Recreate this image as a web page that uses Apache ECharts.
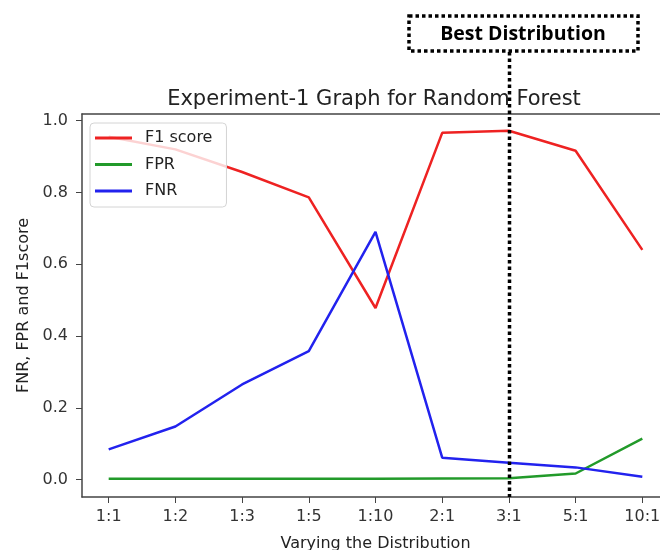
<!DOCTYPE html>
<html lang="en">
<head>
  <meta charset="UTF-8">
  <title>Experiment-1 Graph for Random Forest</title>
  <style>
    html,body { width:100%; height:100%; margin:0; background:#fff; }
  </style>
</head>
<body>
  <div id="chart" style="width:660px;height:550px"></div>
  <script src="https://cdn.jsdelivr.net/npm/echarts@6/dist/echarts.min.js"></script>
  <script>
    // data
    var ratios = ['1:1', '1:2', '1:3', '1:5', '1:10', '2:1', '3:1', '5:1', '10:1'];
    var f1Score = [0.955, 0.92, 0.857, 0.786, 0.478, 0.966, 0.972, 0.916, 0.64];
    var fpr = [0.002, 0.002, 0.002, 0.002, 0.002, 0.003, 0.004, 0.017, 0.114];
    var fnr = [0.084, 0.148, 0.265, 0.358, 0.69, 0.061, 0.047, 0.034, 0.008];
    var yTicks = [0, 0.2, 0.4, 0.6, 0.8, 1.0];
    var bestIndex = 6;

    var font = 'DejaVu Sans';
    var xTicks = ratios.map(function (r, i) { return i; });

    function pairs(vals) {
      return vals.map(function (v, i) { return [i, v]; });
    }

    var myChart = echarts.init(document.getElementById('chart'));

    var option = {
      animation: false,
      grid: {
        left: 82, top: 114, width: 587, height: 383,
        outerBoundsMode: 'none',
        containLabel: false
      },
      legend: {
        left: 90, top: 123,
        orient: 'vertical',
        icon: 'rect',
        itemWidth: 37, itemHeight: 3,
        itemGap: 8.5,
        padding: [6, 14, 7, 5],
        backgroundColor: 'rgba(255,255,255,0.8)',
        borderColor: '#d4d4d4', borderWidth: 1, borderRadius: 4,
        textStyle: { fontFamily: font, fontSize: 16, color: '#222', lineHeight: 18, padding: [0, 0, 0, 8] },
        data: ['F1 score', 'FPR', 'FNR']
      },
      xAxis: [
        {
          type: 'value',
          min: -0.4, max: 8.4,
          name: 'Varying the Distribution',
          nameLocation: 'middle', nameGap: 39,
          nameTextStyle: { fontFamily: font, fontSize: 16, color: '#222' },
          axisLine: { onZero: false, lineStyle: { color: '#444', width: 1.5 } },
          axisTick: { show: true, length: 6, lineStyle: { color: '#444' }, customValues: xTicks },
          axisLabel: {
            customValues: xTicks,
            margin: 12,
            fontFamily: font, fontSize: 16, color: '#333',
            formatter: function (v) { return ratios[Math.round(v)]; }
          },
          splitLine: { show: false }
        },
        {
          // top spine only
          type: 'value', position: 'top',
          min: -0.4, max: 8.4,
          axisLine: { show: true, onZero: false, lineStyle: { color: '#444', width: 1.5 } },
          axisTick: { show: false },
          axisLabel: { show: false },
          splitLine: { show: false }
        }
      ],
      yAxis: {
        type: 'value',
        min: -0.0485, max: 1.0185,
        name: 'FNR, FPR and F1score',
        nameLocation: 'middle', nameGap: 50,
        nameTextStyle: { fontFamily: font, fontSize: 16, color: '#222' },
        axisLine: { show: true, onZero: false, lineStyle: { color: '#444', width: 1.5 } },
        axisTick: { show: true, length: 6, lineStyle: { color: '#444' }, customValues: yTicks },
        axisLabel: {
          customValues: yTicks,
          margin: 14,
          fontFamily: font, fontSize: 16, color: '#333',
          formatter: function (v) { return v.toFixed(1); }
        },
        splitLine: { show: false }
      },
      series: [
        {
          name: 'F1 score', type: 'line', data: pairs(f1Score),
          showSymbol: false, color: '#ee2222', lineStyle: { width: 2.5 }
        },
        {
          name: 'FPR', type: 'line', data: pairs(fpr),
          showSymbol: false, color: '#229a2a', lineStyle: { width: 2.5 }
        },
        {
          name: 'FNR', type: 'line', data: pairs(fnr),
          showSymbol: false, color: '#2222ee', lineStyle: { width: 2.5 }
        }
      ]
    };

    myChart.setOption(option);

    // best distribution marker, placed through the x axis scale
    var bx = Math.round(myChart.convertToPixel({ xAxisIndex: 0 }, bestIndex)) + 0.5;
    var yBottom = myChart.convertToPixel({ yAxisIndex: 0 }, -0.0485);

    myChart.setOption({
      graphic: [
        {
          type: 'text',
          style: {
            x: 374, y: 100, text: 'Experiment-1 Graph for Random Forest',
            font: '21px "DejaVu Sans"', fill: '#222',
            align: 'center', verticalAlign: 'middle'
          }
        },
        {
          type: 'line', z: 100,
          shape: { x1: bx, y1: 52, x2: bx, y2: yBottom },
          style: { stroke: '#000', lineWidth: 3.5, lineDash: [3.5, 3] }
        },
        {
          type: 'rect', z: 100,
          shape: { x: 409, y: 16, width: 229, height: 35 },
          style: { fill: '#fff', stroke: '#000', lineWidth: 3.5, lineDash: [3.5, 3] }
        },
        {
          type: 'text', z: 101,
          style: {
            x: 523, y: 34, text: 'Best Distribution',
            font: 'bold 19.5px "Open Sans"', fill: '#000',
            align: 'center', verticalAlign: 'middle'
          }
        }
      ]
    });
  </script>
</body>
</html>
